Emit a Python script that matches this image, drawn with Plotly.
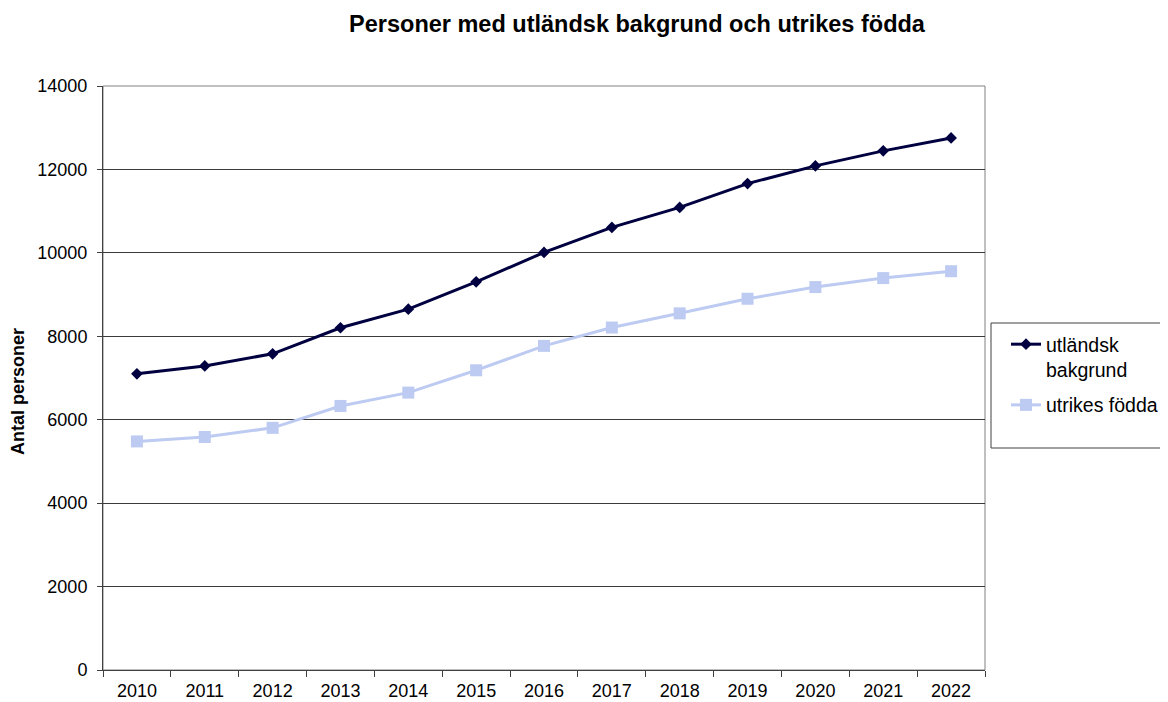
import plotly.graph_objects as go

years = ["2010", "2011", "2012", "2013", "2014", "2015", "2016",
         "2017", "2018", "2019", "2020", "2021", "2022"]
utlandsk_bakgrund = [7100, 7290, 7580, 8205, 8650, 9305, 10010,
                     10610, 11090, 11660, 12085, 12445, 12755]
utrikes_fodda = [5480, 5585, 5805, 6330, 6650, 7185, 7770,
                 8210, 8550, 8900, 9180, 9395, 9560]

FONT = "Liberation Sans, Arial, sans-serif"
OFF = 8  # default body margin of the page
W, H = 1168 - OFF, 702 - OFF
# plot area in page pixels
L, R, T, B = 103, 985, 86, 670
pw, ph = R - L, B - T


def px_x(x):
    return (x - L) / pw


def px_y(y):
    return (B - y) / ph


fig = go.Figure()
fig.add_trace(go.Scatter(
    x=years, y=utlandsk_bakgrund, mode="lines+markers",
    name="utländsk<br>bakgrund", legendgroup="a",
    line=dict(color="#000040", width=3),
    marker=dict(symbol="diamond", size=9, color="#000040"),
))
fig.add_trace(go.Scatter(
    x=years, y=utrikes_fodda, mode="lines+markers",
    name="utrikes födda", legendgroup="b",
    line=dict(color="#BDCBF2", width=3),
    marker=dict(symbol="square", size=12, color="#BDCBF2"),
))

fig.update_layout(
    width=W, height=H,
    margin=dict(l=L - OFF, r=W - (R - OFF), t=T - OFF, b=H - (B - OFF),
                pad=0, autoexpand=False),
    paper_bgcolor="white", plot_bgcolor="white",
    font=dict(family=FONT, size=18, color="black"),
    title=dict(text="<b>Personer med utländsk bakgrund och utrikes födda</b>",
               font=dict(family=FONT, size=23.5, color="black"),
               xref="paper", x=px_x(637), xanchor="center",
               yref="container", y=1 - (24 - OFF) / H, yanchor="middle",
               automargin=False),
    showlegend=True,
    legend=dict(x=px_x(1006), y=px_y(325), xanchor="left", yanchor="top",
                bgcolor="rgba(0,0,0,0)", borderwidth=0, valign="top",
                font=dict(family=FONT, size=19.5, color="black"),
                tracegroupgap=7, itemwidth=30),
    xaxis=dict(type="category", tickson="boundaries", ticks="outside",
               ticklen=6, tickcolor="#404040", showline=True,
               linecolor="#404040", linewidth=1, showgrid=False,
               tickfont=dict(size=18), range=[-0.5, 12.5],
               automargin=False, ticklabelstandoff=4),
    yaxis=dict(range=[0, 14000], dtick=2000, ticks="outside", ticklen=5,
               tickcolor="#404040", showline=True, linecolor="#404040",
               linewidth=1, showgrid=True, gridcolor="#3a3a3a", gridwidth=1,
               tickfont=dict(size=18), tickformat="d", zeroline=False,
               automargin=False, ticklabelstandoff=6),
    annotations=[dict(text="<b>Antal personer</b>", textangle=-90,
                      xref="paper", yref="paper", x=px_x(18), y=px_y(392),
                      xanchor="center", yanchor="middle", showarrow=False,
                      font=dict(family=FONT, size=18, color="black"))],
    shapes=[
        dict(type="rect", xref="paper", yref="paper", x0=0, x1=1, y0=0, y1=1,
             line=dict(color="#808080", width=1), layer="below"),
        dict(type="rect", xref="paper", yref="paper",
             x0=px_x(991), x1=px_x(1166), y0=px_y(448), y1=px_y(323),
             line=dict(color="#404040", width=1)),
    ],
)

fig.write_html("out.html")
